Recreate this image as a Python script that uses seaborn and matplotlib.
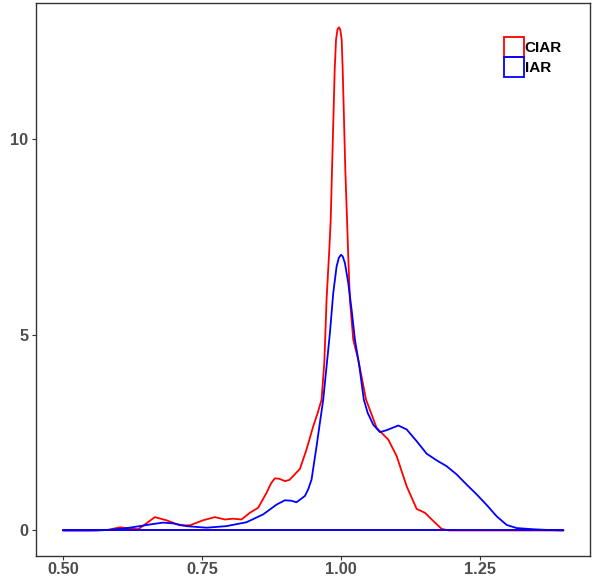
import matplotlib
matplotlib.use("Agg")
import matplotlib.pyplot as plt
from matplotlib.patches import Patch
import seaborn as sns
import pandas as pd

# CIAR density curve
ciar_x = [0.50, 0.56, 0.579, 0.603, 0.620, 0.635, 0.650, 0.665, 0.686, 0.710, 0.728, 0.752,
          0.773, 0.791, 0.806, 0.821, 0.836, 0.851, 0.866, 0.874, 0.881, 0.889, 0.899, 0.907,
          0.914, 0.926, 0.938, 0.950, 0.958, 0.965, 0.970, 0.974, 0.979, 0.9815, 0.9838,
          0.9862, 0.9886, 0.991, 0.9937, 0.9964, 0.9988, 1.0012, 1.003, 1.0054, 1.0077,
          1.0108, 1.013, 1.016, 1.022, 1.031, 1.045, 1.064, 1.085, 1.100, 1.118, 1.136,
          1.151, 1.166, 1.181, 1.194, 1.25, 1.30, 1.35, 1.40]
ciar_y = [0.00, 0.00, 0.01, 0.08, 0.05, 0.03, 0.18, 0.34, 0.26, 0.13, 0.13, 0.26,
          0.34, 0.28, 0.30, 0.28, 0.45, 0.58, 0.96, 1.20, 1.33, 1.32, 1.26, 1.29,
          1.39, 1.57, 2.07, 2.66, 3.00, 3.34, 4.30, 5.89, 7.20, 7.95, 9.21,
          10.48, 11.76, 12.53, 12.80, 12.85, 12.78, 12.53, 11.76, 10.48, 9.21,
          7.95, 7.00, 5.89, 4.87, 4.36, 3.34, 2.62, 2.32, 1.90, 1.13, 0.55,
          0.45, 0.24, 0.04, 0.00, 0.00, 0.00, 0.00, 0.00]

# IAR density curve
iar_x = [0.50, 0.55, 0.579, 0.610, 0.638, 0.660, 0.680, 0.698, 0.722, 0.758, 0.794, 0.830,
         0.860, 0.884, 0.899, 0.910, 0.920, 0.935, 0.941, 0.947, 0.956, 0.962, 0.968,
         0.974, 0.980, 0.986, 0.992, 0.996, 1.000, 1.003, 1.007, 1.013, 1.019, 1.025,
         1.033, 1.041, 1.048, 1.058, 1.070, 1.082, 1.103, 1.118, 1.136, 1.154, 1.172,
         1.190, 1.208, 1.226, 1.244, 1.262, 1.280, 1.298, 1.316, 1.346, 1.375, 1.40]
iar_y = [0.00, 0.00, 0.01, 0.05, 0.11, 0.16, 0.20, 0.18, 0.11, 0.07, 0.11, 0.21,
         0.41, 0.66, 0.77, 0.76, 0.72, 0.88, 1.05, 1.30, 2.15, 2.75, 3.34,
         4.19, 5.04, 6.06, 6.74, 6.96, 7.04, 7.00, 6.83, 6.32, 5.64, 4.87,
         4.19, 3.34, 3.00, 2.70, 2.51, 2.56, 2.68, 2.58, 2.28, 1.96, 1.79,
         1.64, 1.43, 1.17, 0.92, 0.65, 0.36, 0.14, 0.06, 0.03, 0.01, 0.00]

groups = ["CIAR", "IAR"]
colors = {"CIAR": "#FF0000", "IAR": "#0000FF"}

df = pd.concat([
    pd.DataFrame({"x": ciar_x, "y": ciar_y, "group": "CIAR"}),
    pd.DataFrame({"x": iar_x, "y": iar_y, "group": "IAR"}),
], ignore_index=True)

sns.set_style("white")
plt.rcParams["font.family"] = ["Liberation Sans", "DejaVu Sans"]

W, H = 596, 581
fig = plt.figure(figsize=(W / 100, H / 100), dpi=100)
left, right, top, bottom = 35.5, 590, 3, 555.5
ax = fig.add_axes([left / W, 1 - bottom / H, (right - left) / W, (bottom - top) / H])

for g in groups:
    sub = df[df["group"] == g]
    sns.lineplot(data=sub, x="x", y="y", color=colors[g], lw=1.3, sort=False,
                 estimator=None, ax=ax, legend=False)
    ax.plot([sub["x"].min(), sub["x"].max()], [0, 0], color=colors[g], lw=1.3)

ax.set_xlim(0.4505, 1.4478)
ax.set_ylim(-0.64, 13.47)
ax.set_xticks([0.50, 0.75, 1.00, 1.25])
ax.set_xticklabels(["0.50", "0.75", "1.00", "1.25"])
ax.set_yticks([0, 5, 10])
ax.set_yticklabels(["0", "5", "10"])
ax.set_xlabel("")
ax.set_ylabel("")

for sp in ax.spines.values():
    sp.set_visible(True)
    sp.set_color("#333333")
    sp.set_linewidth(1.0)

ax.tick_params(axis="both", which="major", length=3, width=0.8, color="#333333",
               labelsize=11.8, labelcolor="#4D4D4D", pad=2, direction="out",
               bottom=True, left=True)
for lab in ax.get_xticklabels() + ax.get_yticklabels():
    lab.set_fontweight("bold")

handles = [Patch(facecolor="none", edgecolor=colors[g], lw=1.3, label=g) for g in groups]
leg = fig.legend(handles=handles, loc="upper left",
                 bbox_to_anchor=(504 / W, 1 - 37 / H), bbox_transform=fig.transFigure,
                 frameon=False, prop={"weight": "bold", "size": 11},
                 handlelength=1.31, handleheight=1.63, labelspacing=0.0,
                 handletextpad=0.05, borderpad=0, borderaxespad=0)
for t in leg.get_texts():
    t.set_color("black")

fig.savefig("out.png", dpi=100)
